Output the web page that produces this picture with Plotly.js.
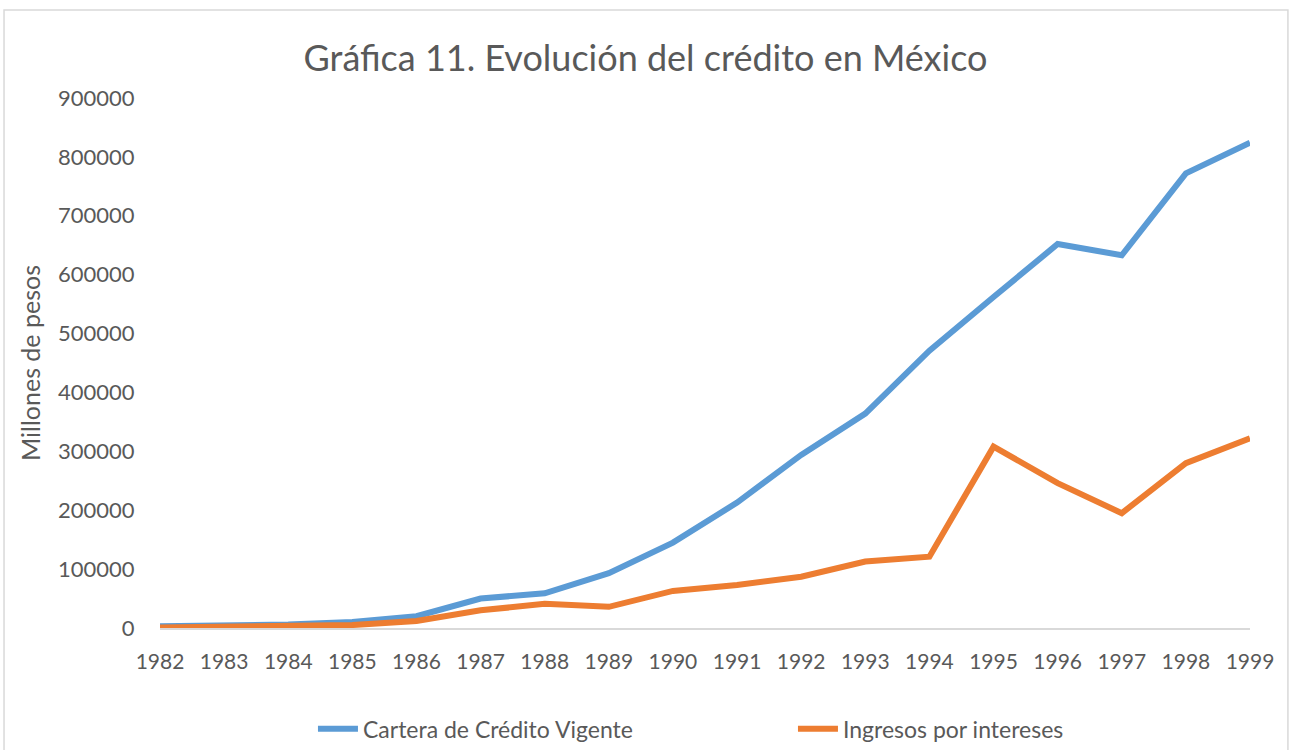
<!DOCTYPE html>
<html>
<head>
<meta charset="utf-8">
<script src="https://cdn.plot.ly/plotly-3.0.1.min.js"></script>
<style>html,body{margin:0;padding:0;background:#fff;} #chart{width:1291px;height:750px;}</style>
</head>
<body>
<div id="chart"></div>
<script>
const years = [1982,1983,1984,1985,1986,1987,1988,1989,1990,1991,1992,1993,1994,1995,1996,1997,1998,1999];
const cartera = [3000,4000,6000,10000,20000,50000,59000,93000,145000,213000,294000,364000,471000,562000,652000,633000,772000,824000];
const ingresos = [1000,2000,3000,5000,12000,30000,41000,36000,63000,73000,87000,113000,121000,308000,246000,195000,280000,322000];
const seriesNames = ["Cartera de Crédito Vigente","Ingresos por intereses"];
const titleText = "Gráfica 11. Evolución del crédito en México";
const yTitle = "Millones de pesos";

const txt = '#595959';
const fontFam = 'Lato, "Open Sans", sans-serif';
const data = [
  {x: years, y: cartera, name: seriesNames[0], type:'scatter', mode:'lines', line:{color:'#5B9BD5', width:6}},
  {x: years, y: ingresos, name: seriesNames[1], type:'scatter', mode:'lines', line:{color:'#ED7D31', width:6}}
];
const layout = {
  width:1291, height:750,
  margin:{l:160, r:41, t:98, b:122, autoexpand:false},
  paper_bgcolor:'#fff', plot_bgcolor:'#fff',
  font:{family:fontFam, color:txt},
  title:{text:titleText, font:{size:36, color:txt, family:fontFam}, x:0.5, xanchor:'center', y:0.922, yanchor:'middle'},
  xaxis:{range:[1982,1999], tickmode:'array', tickvals:years, ticktext:years.map(String),
    showgrid:false, zeroline:false, showline:true, linecolor:'#d9d9d9', linewidth:2,
    ticks:'outside', ticklen:14, tickcolor:'rgba(0,0,0,0)', tickfont:{size:21, color:txt}, fixedrange:true},
  yaxis:{range:[0,900000], dtick:100000, showgrid:false, zeroline:false, showline:false,
    ticks:'outside', ticklen:20, tickcolor:'rgba(0,0,0,0)', tickfont:{size:22, color:txt},
    tickformat:'d',
    title:{text:yTitle, font:{size:25, color:txt}, standoff:10}},
  showlegend:true,
  legend:{orientation:'h', x:0.5807, xanchor:'center', y:-0.19, yanchor:'middle',
    font:{size:23, color:txt}, entrywidth:425, entrywidthmode:'pixels', itemwidth:40, traceorder:'normal'},
  shapes:[{type:'rect', xref:'paper', yref:'paper', x0:-0.1431, x1:1.0348, y0:-0.25, y1:1.166,
    line:{color:'#d9d9d9', width:1.5}, fillcolor:'rgba(0,0,0,0)', layer:'below'}]
};
Plotly.newPlot('chart', data, layout, {displayModeBar:false, staticPlot:true});
</script>
</body>
</html>
